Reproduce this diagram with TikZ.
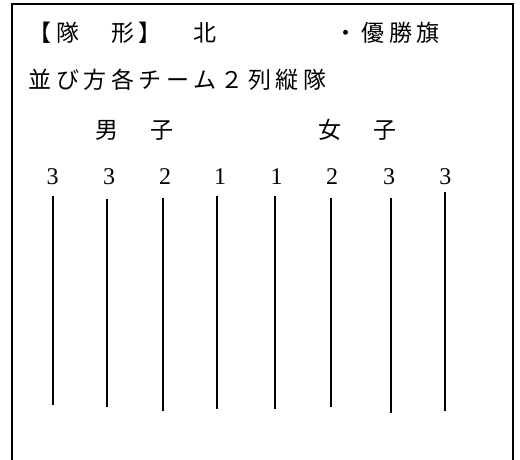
\documentclass[tikz,border=0pt]{standalone}
\usepackage{fontspec}
\newfontfamily\jpfont[LetterSpace=19.6]{Noto Sans CJK JP}
\newfontfamily\numfont{Liberation Serif}

\begin{document}
\begin{tikzpicture}[x=1pt,y=-1pt,
  lbl/.style={inner sep=0pt,anchor=west,font=\jpfont\fontsize{23}{23}\selectfont},
  num/.style={inner sep=0pt,font=\numfont\fontsize{24}{24}\selectfont},
  line/.style={line width=1.6pt}]
\useasboundingbox (0,0) rectangle (520,459);
\draw[line width=1.8pt] (12,470) -- (12,4) -- (513,4) -- (513,470);

\node[lbl] (title) at (28.5,33) {【隊　形】　北};
\node[lbl] (flag) at (334,33) {・優勝旗};
\node[lbl] (order) at (28.5,80) {並び方各チーム２列縦隊};
\node[lbl] (boys) at (95,130) {男　子};
\node[lbl] (girls) at (318,130) {女　子};

\foreach \x/\d [count=\i] in {52.7/3,109/3,165/2,220/1,276.7/1,332/2,389/3,445.3/3}
  \node[num] (n\i) at (\x,176.7) {\d};

\foreach \x/\t/\b [count=\i] in {53/196/405,107/199/407,163/198/411,217/196/409,
    275/196/409,331/198/407,391/198/413,445/192/411}{
  \coordinate (top\i) at (\x,\t);
  \coordinate (end\i) at (\x,\b);
  \draw[line] (top\i) -- (end\i);
}
\end{tikzpicture}
\end{document}
